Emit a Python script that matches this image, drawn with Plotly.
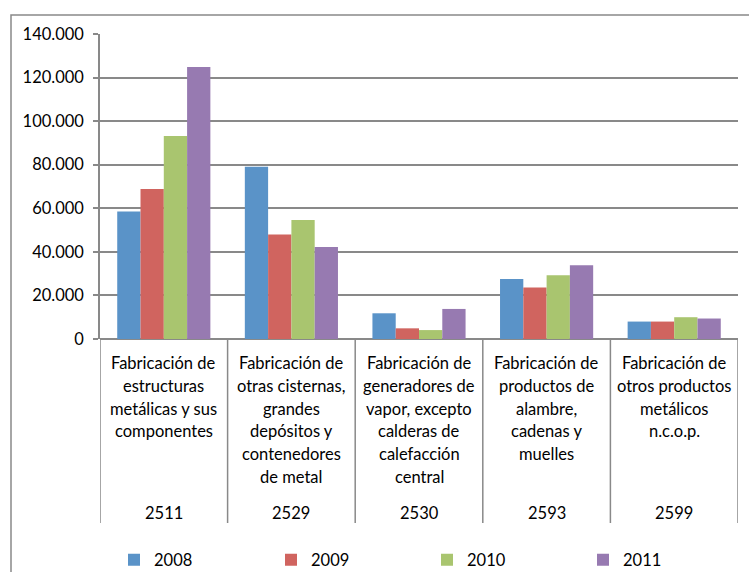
import plotly.graph_objects as go

codes = ["2511", "2529", "2530", "2593", "2599"]
names = [
    ["Fabricación de", "estructuras", "metálicas y sus", "componentes"],
    ["Fabricación de", "otras cisternas,", "grandes", "depósitos y", "contenedores", "de metal"],
    ["Fabricación de", "generadores de", "vapor, excepto", "calderas de", "calefacción", "central"],
    ["Fabricación de", "productos de", "alambre,", "cadenas y", "muelles"],
    ["Fabricación de", "otros productos", "metálicos", "n.c.o.p."],
]
years = ["2008", "2009", "2010", "2011"]
v2008 = [58500, 79100, 11800, 27500, 8000]
v2009 = [68800, 48000, 4900, 23600, 8000]
v2010 = [93200, 54600, 4100, 29300, 10000]
v2011 = [124800, 42200, 13800, 33900, 9400]
series = [v2008, v2009, v2010, v2011]
colors = ["#5A93C8", "#D0645F", "#A9C56F", "#977AB1"]
yticks = [0, 20000, 40000, 60000, 80000, 100000, 120000, 140000]

FONT = "Lato"
FS = 16.5
W, H = 749, 572
L, R, T, B = 100, 11, 34, 233
pw, ph = W - L - R, H - T - B

x = list(range(len(codes)))
fig = go.Figure()
legend_ids = ["legend", "legend2", "legend3", "legend4"]
for yr, vals, c, lg in zip(years, series, colors, legend_ids):
    fig.add_trace(go.Bar(x=x, y=vals, name=yr, legend=lg, showlegend=True,
                         marker=dict(color=c, line=dict(width=0))))

shapes = []
for k in range(len(codes) + 1):
    shapes.append(dict(type="line", xref="x", yref="paper", x0=k - 0.5, x1=k - 0.5,
                       y0=0, y1=-(523 - 339) / ph, line=dict(color="#898989", width=1.5)))
shapes.append(dict(type="rect", xref="paper", yref="paper",
                   x0=(11 - L) / pw, x1=(770 - L) / pw,
                   y0=(339 - 600) / ph, y1=(339 - 15) / ph,
                   line=dict(color="#898989", width=1.5), fillcolor="rgba(0,0,0,0)", layer="below"))

annotations = []
line_step = 22.7
first = 363.3 - 339
for k, lines in enumerate(names):
    for i, t in enumerate(lines):
        annotations.append(dict(x=k, xref="x", y=0, yref="paper", yanchor="middle",
                                yshift=-(first + i * line_step), text=t, showarrow=False,
                                font=dict(family=FONT, size=FS, color="#000000")))
    annotations.append(dict(x=k, xref="x", y=0, yref="paper", yanchor="middle",
                            yshift=-(513 - 339), text=codes[k], showarrow=False,
                            font=dict(family=FONT, size=FS, color="#000000")))

legend_common = dict(orientation="h", xanchor="left", yanchor="middle",
                     y=-(560 - 339) / ph, itemwidth=30, visible=True,
                     font=dict(family=FONT, size=FS, color="#000000"),
                     bgcolor="rgba(0,0,0,0)")
legend_x = [114, 271, 427, 583]
legends = {}
for lg, lx in zip(legend_ids, legend_x):
    legends[lg] = dict(legend_common, x=(lx - L) / pw)

fig.update_layout(
    width=W, height=H,
    showlegend=True,
    margin=dict(l=L, r=R, t=T, b=B, autoexpand=False),
    paper_bgcolor="white", plot_bgcolor="white",
    separators=",.",
    barmode="group", bargap=0.27, bargroupgap=0,
    font=dict(family=FONT, size=FS, color="#000000"),
    xaxis=dict(range=[-0.5, len(codes) - 0.5], showticklabels=False, showgrid=False,
               zeroline=False, showline=False, ticks="", fixedrange=True),
    yaxis=dict(range=[0, 140000], tickvals=yticks, tickformat=",.0f",
               showgrid=True, gridcolor="#898989", gridwidth=1.5,
               zeroline=True, zerolinecolor="#898989", zerolinewidth=1.5,
               showline=True, linecolor="#898989", linewidth=1.5,
               ticks="outside", ticklen=5, tickcolor="#898989", tickwidth=1.5,
               ticklabelstandoff=6,
               tickfont=dict(family=FONT, size=FS, color="#000000")),
    shapes=shapes, annotations=annotations,
    hovermode=False,
    **legends,
)

fig.write_html("out.html", config={"displayModeBar": False},
               post_script="document.body.style.margin='0';document.body.style.padding='0';")
